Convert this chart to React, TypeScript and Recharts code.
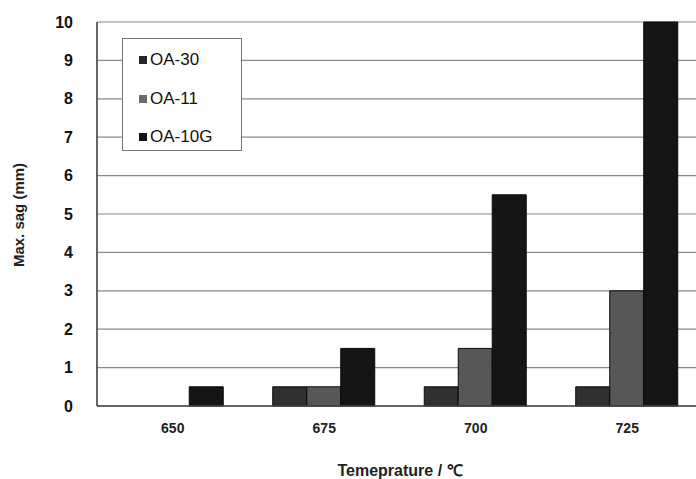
import React from 'react';
import { BarChart, Bar, XAxis, YAxis, CartesianGrid } from 'recharts';

const temperatures = ['650', '675', '700', '725'];
const oa30 = [0, 0.5, 0.5, 0.5];
const oa11 = [0, 0.5, 1.5, 3];
const oa10g = [0.5, 1.5, 5.5, 10];
const yTicks = [0, 1, 2, 3, 4, 5, 6, 7, 8, 9, 10];

const series = [
  { key: 'oa30', name: 'OA-30', color: '#303030', swatch: '#262626' },
  { key: 'oa11', name: 'OA-11', color: '#575757', swatch: '#6a6a6a' },
  { key: 'oa10g', name: 'OA-10G', color: '#151515', swatch: '#141414' },
];

const data = temperatures.map((t, i) => ({
  temp: t,
  oa30: oa30[i],
  oa11: oa11[i],
  oa10g: oa10g[i],
}));

const font = '"Liberation Sans", Arial, sans-serif';

const LegendBox = () => (
  <div
    style={{
      position: 'absolute',
      left: 122,
      top: 38,
      width: 120,
      height: 113,
      border: '1.5px solid #777',
      background: '#fff',
      boxSizing: 'border-box',
      paddingTop: 2,
      fontFamily: font,
      fontSize: 17,
      color: '#111',
    }}
  >
    {series.map((s) => (
      <div key={s.key} style={{ display: 'flex', alignItems: 'center', height: 38.5, paddingLeft: 16 }}>
        <span style={{ width: 8, height: 8, background: s.swatch, display: 'inline-block', marginRight: 3 }} />
        <span>{s.name}</span>
      </div>
    ))}
  </div>
);

export default function App() {
  return (
    <div style={{ position: 'absolute', left: 0, top: 0, width: 696, height: 479, overflow: 'hidden', background: '#fff' }}>
      <BarChart
        width={706}
        height={479}
        data={data}
        margin={{ top: 22, right: 3, left: 0, bottom: 43 }}
        barGap={0}
        barCategoryGap="16%"
      >
        <CartesianGrid vertical={false} stroke="#8a8a8a" strokeWidth={1.2} />
        <XAxis
          dataKey="temp"
          height={30}
          tickLine={false}
          axisLine={{ stroke: '#444', strokeWidth: 1.5 }}
          tickSize={0}
          tickMargin={17}
          tick={{ fill: '#222', fontSize: 14, fontWeight: 700, fontFamily: font }}
        />
        <YAxis
          domain={[0, 10]}
          ticks={yTicks}
          width={97}
          interval={0}
          tickLine={false}
          axisLine={{ stroke: '#333', strokeWidth: 1.5 }}
          tickSize={0}
          tickMargin={24}
          tick={{ fill: '#111', fontSize: 16, fontWeight: 700, fontFamily: font }}
        />
        {series.map((s) => (
          <Bar
            key={s.key}
            dataKey={s.key}
            name={s.name}
            fill={s.color}
            stroke="#0a0a0a"
            strokeWidth={1}
            isAnimationActive={false}
          />
        ))}
      </BarChart>
      <LegendBox />
      <div
        style={{
          position: 'absolute',
          left: 18,
          top: 215,
          transform: 'translate(-50%, -50%) rotate(-90deg)',
          whiteSpace: 'nowrap',
          fontFamily: font,
          fontWeight: 700,
          fontSize: 15,
          color: '#222',
        }}
      >
        Max. sag (mm)
      </div>
      <div
        style={{
          position: 'absolute',
          left: 400,
          top: 470,
          transform: 'translate(-50%, -50%)',
          whiteSpace: 'nowrap',
          fontFamily: font,
          fontWeight: 700,
          fontSize: 16,
          color: '#222',
        }}
      >
        Temeprature / ℃
      </div>
    </div>
  );
}
